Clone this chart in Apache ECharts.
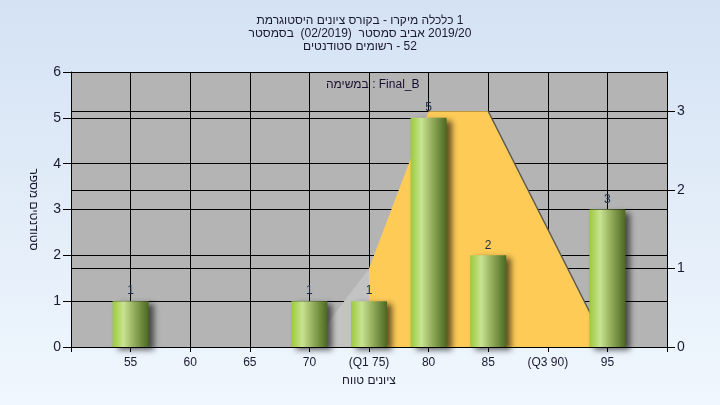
<!DOCTYPE html>
<html>
<head>
<meta charset="utf-8">
<script src="https://cdn.jsdelivr.net/npm/echarts@6/dist/echarts.min.js"></script>
<style>
html,body{margin:0;padding:0;width:720px;height:405px;overflow:hidden;}
#chart{width:720px;height:405px;}
</style>
</head>
<body>
<div id="chart"></div>
<script>
// ---- data ----
const titleLines = [
  'היסטוגרמת ציונים בקורס - מיקרו כלכלה 1',
  'בסמסטר  (02/2019)  סמסטר אביב 2019/20',
  'סטודנטים רשומים - 52'
];
const taskLabel = 'במשימה : Final_B';
const xAxisTitle = 'טווח ציונים';
const yAxisTitle = 'מספר סטודנטים';

const binCenters = [55, 70, 75, 80, 85, 95];
const counts = [1, 1, 1, 5, 2, 3];

const xTickValues = [55, 60, 65, 70, 75, 80, 85, 90, 95];
const xTickLabels = ['55', '60', '65', '70', '(Q1 75)', '80', '85', '(Q3 90)', '95'];

const distX = [70, 75, 80, 85, 95];
const distY = [0, 1, 3, 3, 0];
const q1 = 75;

// ---- build ----
// The reference lays words out left to right; a left-to-right mark after each word keeps that order.
const LRM = '\u200e';
const wordsLTR = s => LRM + s.split(/( +)/).map(t => t.trim() ? t + LRM : t).join('');

const barData = binCenters.map((x, i) => [x, counts[i]]);
const distPts = distX.map((x, i) => [x, distY[i]]);
const greyPts = distPts.filter(p => p[0] <= q1);
const orangePts = distPts.filter(p => p[0] >= q1);
const peakEnd = distPts.filter(p => p[1] === Math.max(...distY)).pop();
const descentPts = distPts.filter(p => p[0] >= peakEnd[0]);

const labelMap = {};
xTickValues.forEach((v, i) => labelMap[v] = xTickLabels[i]);

const FONT = '"Liberation Sans", Arial, sans-serif';
const TXT = '#1a1a30';
const chart = echarts.init(document.getElementById('chart'), null, {renderer: 'canvas'});

chart.setOption({
  animation: false,
  backgroundColor: new echarts.graphic.LinearGradient(0, 0, 0, 1, [
    {offset: 0, color: '#d4e2f3'},
    {offset: 1, color: '#f0f7fe'}
  ]),
  title: {
    text: titleLines.map(wordsLTR).join('\n'),
    left: 'center',
    top: 9,
    textStyle: {fontFamily: FONT, fontSize: 12, fontWeight: 'normal', color: TXT, lineHeight: 13}
  },
  graphic: [{
    type: 'text',
    left: 326,
    top: 79,
    style: {text: wordsLTR(taskLabel), font: '12px ' + FONT, fill: '#1a1030'}
  }],
  grid: {left: 71, right: 53, top: 72, bottom: 58, show: true, backgroundColor: '#b4b4b4', borderWidth: 0},
  xAxis: {
    type: 'value',
    min: 50, max: 100, interval: 5,
    name: wordsLTR(xAxisTitle),
    nameLocation: 'middle',
    nameGap: 28,
    nameTextStyle: {fontFamily: FONT, fontSize: 12, color: TXT},
    axisLine: {show: true, lineStyle: {color: '#000', width: 1}},
    axisTick: {show: true, length: 5, lineStyle: {color: '#000'}},
    axisLabel: {
      fontFamily: FONT, fontSize: 12, color: TXT, margin: 10,
      formatter: v => labelMap[v] !== undefined ? labelMap[v] : ''
    },
    splitLine: {show: true, lineStyle: {color: '#000', width: 1}}
  },
  yAxis: [{
    type: 'value',
    min: 0, max: 6, interval: 1,
    name: wordsLTR(yAxisTitle),
    nameLocation: 'middle',
    nameGap: 32,
    nameRotate: -90,
    nameTextStyle: {fontFamily: FONT, fontSize: 12, color: TXT},
    axisLine: {show: true, lineStyle: {color: '#000', width: 1}},
    axisTick: {show: true, length: 8, lineStyle: {color: '#000'}},
    axisLabel: {fontFamily: FONT, fontSize: 14, color: TXT, margin: 10},
    splitLine: {show: true, lineStyle: {color: '#000', width: 1}}
  }, {
    type: 'value',
    position: 'right',
    min: 0, max: 3.5, interval: 1,
    axisLine: {show: true, lineStyle: {color: '#000', width: 1}},
    axisTick: {show: true, length: 8, lineStyle: {color: '#000'}},
    axisLabel: {fontFamily: FONT, fontSize: 14, color: TXT, margin: 10, showMaxLabel: false,
      formatter: v => Number.isInteger(v) ? String(v) : ''},
    splitLine: {show: true, lineStyle: {color: '#000', width: 1}}
  }],
  series: [{
    type: 'line',
    yAxisIndex: 1,
    data: greyPts,
    symbol: 'none',
    lineStyle: {width: 0},
    areaStyle: {color: '#c3c3c3', opacity: 1},
    z: 1
  }, {
    type: 'line',
    yAxisIndex: 1,
    data: orangePts,
    symbol: 'none',
    lineStyle: {width: 0},
    areaStyle: {color: '#fecb57', opacity: 1},
    z: 1
  }, {
    type: 'line',
    yAxisIndex: 1,
    data: descentPts,
    symbol: 'none',
    lineStyle: {width: 1.5, color: '#5c5a50'},
    z: 2
  }, {
    type: 'bar',
    yAxisIndex: 0,
    data: barData,
    barWidth: 36,
    z: 5,
    itemStyle: {
      color: new echarts.graphic.LinearGradient(0, 0, 1, 0, [
        {offset: 0, color: '#9cc93c'},
        {offset: 0.3, color: '#c8e391'},
        {offset: 0.6, color: '#93ad5c'},
        {offset: 1, color: '#4b6821'}
      ]),
      shadowColor: 'rgba(0,0,0,0.6)',
      shadowBlur: 6,
      shadowOffsetX: 5,
      shadowOffsetY: 3
    },
    label: {
      show: true,
      position: 'top',
      distance: 4,
      fontFamily: FONT,
      fontSize: 12,
      color: '#1c2c48'
    }
  }]
});
</script>
</body>
</html>
